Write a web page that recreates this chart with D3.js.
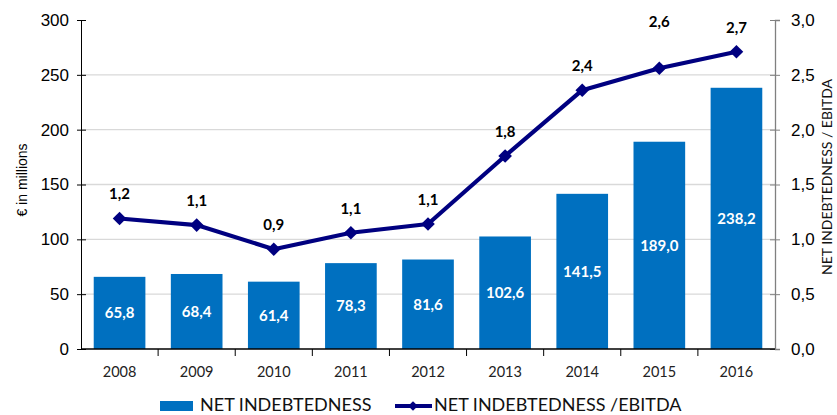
<html>
<head>
    <meta charset="utf-8">
    <title>Net indebtedness</title>
    <script src="https://cdn.jsdelivr.net/npm/d3@7"></script>
    <style>
        body { margin: 0; background: #fff; }
    </style>
</head>
<body>
    <svg id="chart"></svg>
    <script>
        // data
        const years = ['2008', '2009', '2010', '2011', '2012', '2013', '2014', '2015', '2016'];
        const debt = [65.8, 68.4, 61.4, 78.3, 81.6, 102.6, 141.5, 189.0, 238.2];
        const ratio = [1.19, 1.13, 0.91, 1.06, 1.14, 1.76, 2.36, 2.56, 2.71];
        const leftTicks = [0, 50, 100, 150, 200, 250, 300];
        const rightTicks = [0, 0.5, 1, 1.5, 2, 2.5, 3];

        const W = 837, H = 415;
        const plotL = 81, plotR = 775, plotT = 20, plotB = 349;
        const calibri = 'Lato, "Open Sans", sans-serif';
        const arial = '"Liberation Sans", Arial, sans-serif';
        const comma = f => v => d3.format(f)(v).replace('.', ',');

        const svg = d3.select('#chart').attr('width', W).attr('height', H);

        const x = d3.scaleBand().domain(years).range([plotL, plotR]).paddingInner(0.33).paddingOuter(0.165);
        const xb = d3.scaleBand().domain(years).range([plotL, plotR]);
        const y = d3.scaleLinear().domain([0, 300]).range([plotB, plotT]);
        const y2 = d3.scaleLinear().domain([0, 3]).range([plotB, plotT]);

        // gridlines
        svg.append('g').selectAll('line')
            .data(leftTicks.filter(d => d > 0 && d < 300))
            .join('line')
            .attr('x1', plotL).attr('x2', plotR)
            .attr('y1', d => y(d)).attr('y2', d => y(d))
            .attr('stroke', '#d9d9d9').attr('stroke-width', 1.3);

        // bars
        svg.append('g').selectAll('rect')
            .data(debt)
            .join('rect')
            .attr('x', (d, i) => x(years[i]))
            .attr('y', d => y(d))
            .attr('width', x.bandwidth())
            .attr('height', d => y(0) - y(d))
            .attr('fill', '#0070c0');

        svg.append('g').selectAll('text')
            .data(debt)
            .join('text')
            .attr('x', (d, i) => x(years[i]) + x.bandwidth() / 2)
            .attr('y', d => (y(d) + y(0)) / 2)
            .attr('dy', '0.36em')
            .attr('text-anchor', 'middle')
            .attr('fill', '#fff')
            .attr('font-family', calibri).attr('font-weight', 'bold').attr('font-size', 15)
            .text(d => comma('.1f')(d));

        // left axis
        const yAxis = svg.append('g')
            .attr('transform', `translate(${plotL},0)`)
            .call(d3.axisLeft(y).tickValues(leftTicks).tickSize(4).tickPadding(8));
        yAxis.selectAll('.tick line').attr('x2', 5).attr('x1', -4);
        yAxis.selectAll('text').attr('font-family', arial).attr('font-size', 17).attr('fill', '#000');

        // right axis
        const y2Axis = svg.append('g')
            .attr('transform', `translate(${plotR},0)`)
            .call(d3.axisRight(y2).tickValues(rightTicks).tickFormat(comma('.1f')).tickSize(5).tickPadding(11));
        y2Axis.select('.domain').attr('stroke', '#808080').attr('stroke-width', 1.3);
        y2Axis.selectAll('.tick line').attr('x1', -5).attr('stroke', '#808080');
        y2Axis.selectAll('text').attr('font-family', arial).attr('font-size', 17).attr('fill', '#000');

        // bottom axis, ticks at category boundaries
        svg.append('line')
            .attr('x1', plotL).attr('x2', plotR)
            .attr('y1', plotB).attr('y2', plotB)
            .attr('stroke', '#000').attr('stroke-width', 1.3);
        svg.append('g').selectAll('line')
            .data(years.slice(1))
            .join('line')
            .attr('x1', d => xb(d)).attr('x2', d => xb(d))
            .attr('y1', plotB).attr('y2', plotB + 7)
            .attr('stroke', '#000');
        svg.append('g').selectAll('text')
            .data(years)
            .join('text')
            .attr('x', d => xb(d) + xb.bandwidth() / 2)
            .attr('y', 377)
            .attr('text-anchor', 'middle')
            .attr('font-family', calibri).attr('font-size', 14.5).attr('fill', '#222')
            .text(d => d);

        // ratio line
        const line = d3.line()
            .x((d, i) => xb(years[i]) + xb.bandwidth() / 2)
            .y(d => y2(d));
        svg.append('path')
            .attr('d', line(ratio))
            .attr('fill', 'none')
            .attr('stroke', '#000080')
            .attr('stroke-width', 4.2)
            .attr('stroke-linejoin', 'round');

        const diamond = d3.symbol().type(d3.symbolDiamond2).size(118);
        svg.append('g').selectAll('path')
            .data(ratio)
            .join('path')
            .attr('d', diamond)
            .attr('transform', (d, i) => `translate(${xb(years[i]) + xb.bandwidth() / 2},${y2(d)})`)
            .attr('fill', '#000080');

        // the 2015 label sits higher in the original
        svg.append('g').selectAll('text')
            .data(ratio)
            .join('text')
            .attr('x', (d, i) => xb(years[i]) + xb.bandwidth() / 2)
            .attr('y', (d, i) => y2(d) - (i === 7 ? 41 : 19))
            .attr('text-anchor', 'middle')
            .attr('font-family', calibri).attr('font-weight', 'bold').attr('font-size', 15)
            .attr('fill', '#000')
            .text(d => comma('.1f')(d));

        // axis titles
        svg.append('text')
            .attr('transform', 'translate(27,180) rotate(-90)')
            .attr('text-anchor', 'middle')
            .attr('font-family', arial).attr('font-size', 14)
            .text('€ in millions');
        svg.append('text')
            .attr('transform', 'translate(832,177) rotate(-90)')
            .attr('text-anchor', 'middle')
            .attr('font-family', calibri).attr('font-size', 14).attr('fill', '#111')
            .text('NET INDEBTEDNESS / EBITDA');

        // legend
        const lg = svg.append('g').attr('font-family', calibri).attr('font-size', 18).attr('fill', '#111');
        lg.append('rect').attr('x', 160).attr('y', 401).attr('width', 33).attr('height', 10).attr('fill', '#0070c0');
        lg.append('text').attr('x', 200).attr('y', 411).text('NET INDEBTEDNESS');
        lg.append('line').attr('x1', 395).attr('x2', 432).attr('y1', 406).attr('y2', 406)
            .attr('stroke', '#000080').attr('stroke-width', 4);
        lg.append('path').attr('d', d3.symbol().type(d3.symbolDiamond2).size(60))
            .attr('transform', 'translate(413,406)').attr('fill', '#000080');
        lg.append('text').attr('x', 434).attr('y', 411).text('NET INDEBTEDNESS /EBITDA');
    </script>
</body>
</html>
